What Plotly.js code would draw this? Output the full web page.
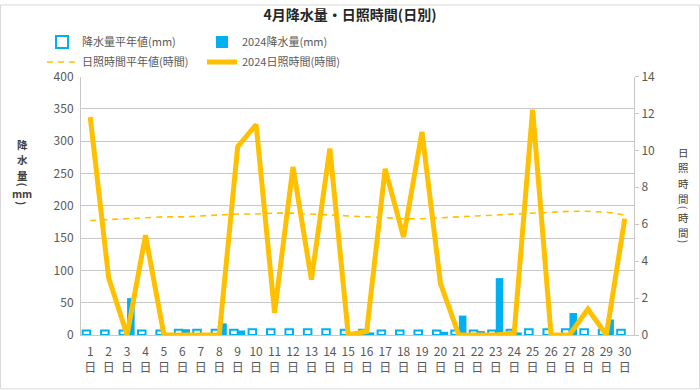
<!DOCTYPE html>
<html>
<head>
<meta charset="utf-8">
<script src="https://cdn.plot.ly/plotly-3.0.1.min.js"></script>
<style>
  html, body { margin: 0; padding: 0; background: #fff; }
  #chart { width: 700px; height: 390px; }
</style>
</head>
<body>
<div id="chart"></div>
<script>
// ---- data ----
const days = [1,2,3,4,5,6,7,8,9,10,11,12,13,14,15,16,17,18,19,20,21,22,23,24,25,26,27,28,29,30];
const dayNumLabels = ["1","2","3","4","5","6","7","8","9","10","11","12","13","14","15",
  "16","17","18","19","20","21","22","23","24","25","26","27","28","29","30"];
const dayUnitLabels = ["日","日","日","日","日","日","日","日","日","日","日","日","日","日","日",
  "日","日","日","日","日","日","日","日","日","日","日","日","日","日","日"];
const precipNormal = [7,7,7,7,7,8,8,8,8,9,9,9,9,9,8,8,7,7,7,7,7,7,7,8,9,9,9,9,8,8];
const precip2024 = [0,0,57,0,0,9,2,18,7,0,0,0,0,0,0,4,0,0,0,5,30,6,88,4,0,0,34,0,24,0];
const sunNormal = [6.2,6.25,6.3,6.35,6.4,6.4,6.45,6.5,6.55,6.55,6.6,6.6,6.55,6.5,6.45,6.4,6.35,6.3,6.3,6.35,6.4,6.45,6.5,6.55,6.6,6.65,6.7,6.7,6.65,6.5];
const sun2024 = [11.8,3.1,0,5.4,0,0,0,0,10.2,11.4,1.2,9.1,3.0,10.1,0,0.2,9.0,5.3,11.0,2.8,0,0,0,0.1,12.2,0,0,1.4,0,6.3];
const seriesNames = ["降水量平年値(mm)","2024降水量(mm)","日照時間平年値(時間)","2024日照時間(時間)"];
const leftTicks = [0,50,100,150,200,250,300,350,400];
const rightTicks = [0,2,4,6,8,10,12,14];
// vertical axis titles, one entry per stacked glyph ("(" and ")" are drawn turned)
const leftTitleChars = ["降","水","量","(","mm",")"];
const rightTitleChars = ["日","照","時","間","(","時","間",")"];

// ---- style ----
const BLUE = '#00B0F0', ORANGE = '#FFC000', GRID = '#C8C8C8', TXT = '#595959';
const FONT = '"Noto Sans CJK JP", "Noto Sans", sans-serif';
const M = {l: 81, r: 66, t: 73, b: 55};
const W = 700, H = 390;
const pw = W - M.l - M.r, ph = H - M.t - M.b;
const leftTitleY = [142, 157.5, 173, 182.5, 192, 201.5];
const rightTitleY = [150, 165.5, 181, 196.5, 206, 215.5, 231, 240.5];

const traces = [
  {type:'bar', x: days, y: precipNormal, name: seriesNames[0], legend:'legend',
   marker:{color:'#FFFFFF', line:{color:BLUE, width:2}}, hoverinfo:'skip'},
  {type:'bar', x: days, y: precip2024, name: seriesNames[1], legend:'legend2',
   marker:{color:BLUE, line:{width:0}}, hoverinfo:'skip'},
  {type:'scatter', mode:'lines', x: days, y: sunNormal, name: seriesNames[2], xaxis:'x2', yaxis:'y2', legend:'legend3',
   line:{color:ORANGE, width:1.6, dash:'6px,5px'}},
  {type:'scatter', mode:'lines', x: days, y: sun2024, name: seriesNames[3], xaxis:'x2', yaxis:'y2', legend:'legend4',
   line:{color:ORANGE, width:5}}
];

function leg(xpx, ypx) {
  return {x: xpx / W, y: 1 - ypx / H, xref:'container', yref:'container', xanchor:'left', yanchor:'middle',
          orientation:'h', bgcolor:'rgba(0,0,0,0)', borderwidth:0, itemwidth:30,
          font:{family:FONT, size:11, color:TXT}};
}

function vTitle(chars, ys, xpx, bold) {
  return chars.map((c, i) => ({
    text:c, xref:'paper', yref:'paper', x:(xpx - M.l)/pw, y:(H - M.b - ys[i])/ph,
    xanchor:'center', yanchor:'middle', showarrow:false, borderpad:0,
    textangle: (c === '(' || c === ')') ? 90 : 0,
    font:{family:FONT, size:10.5, color:'#404040', weight: bold ? 'bold' : 'normal'}}));
}

const layout = {
  width: W, height: H,
  margin: M,
  paper_bgcolor:'#FFFFFF', plot_bgcolor:'#FFFFFF',
  font:{family:FONT, color:TXT},
  title:{text:'4月降水量・日照時間(日別)', x:0.5, xanchor:'center', y: 1 - 15/H, yanchor:'middle', yref:'container',
         font:{family:FONT, size:14, color:'#262626', weight:'bold'}},
  barmode:'group', bargap:0.18, bargroupgap:0,
  showlegend:true,
  legend: leg(42, 42), legend2: leg(202, 42), legend3: leg(42, 62), legend4: leg(202, 62),
  xaxis:{range:[0.5, 30.5], tickmode:'array', tickvals: days, ticktext: dayNumLabels,
         showgrid:false, zeroline:false, showline:true, linecolor:GRID, linewidth:1,
         ticks:'', tickfont:{family:FONT, size:12, color:TXT}, ticklabelstandoff:6, fixedrange:true},
  xaxis2:{range:[0.5, 30.5], overlaying:'x', anchor:'y2', side:'bottom', tickmode:'array', tickvals: days, ticktext: dayUnitLabels,
         showgrid:false, zeroline:false, showline:false,
         ticks:'', tickfont:{family:FONT, size:12, color:TXT}, ticklabelstandoff:24, fixedrange:true},
  yaxis:{range:[0,400], tickmode:'array', tickvals:leftTicks, showgrid:true, gridcolor:GRID, gridwidth:1,
         zeroline:false, showline:true, linecolor:GRID, ticks:'', tickfont:{family:FONT, size:12, color:TXT},
         ticklabelstandoff:4, fixedrange:true},
  yaxis2:{range:[0,14], tickmode:'array', tickvals:rightTicks, overlaying:'y', side:'right', anchor:'x2', showgrid:false,
          zeroline:false, showline:true, linecolor:GRID, ticks:'outside', ticklen:4, tickcolor:GRID,
          tickfont:{family:FONT, size:12, color:TXT}, fixedrange:true},
  annotations: vTitle(leftTitleChars, leftTitleY, 22, true).concat(vTitle(rightTitleChars, rightTitleY, 683, false)),
  shapes:[
    {type:'rect', xref:'paper', yref:'paper', x0:(0.5 - M.l)/pw, x1:(W - 0.5 - M.l)/pw,
     y0:(H - M.b - (H - 0.5))/ph, y1:(H - M.b - 0.5)/ph, line:{color:'#D9D9D9', width:1}, layer:'below'}
  ]
};

Plotly.newPlot('chart', traces, layout, {displayModeBar:false, staticPlot:true});
</script>
</body>
</html>
